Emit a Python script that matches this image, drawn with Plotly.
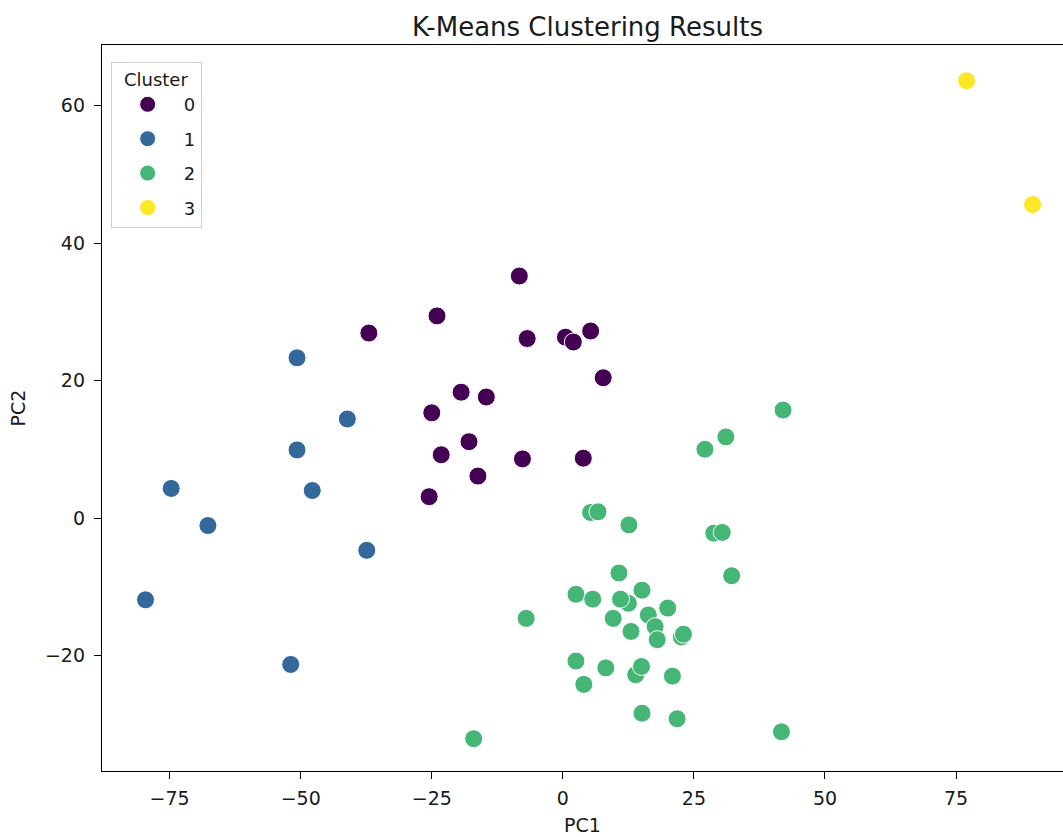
import plotly.graph_objects as go

# Cluster 0
c0_x = [-8.3, -24.0, -37.0, -6.8, 0.5, 2.0, 5.3, 7.7, -19.4, -14.6, -25.0, -17.9, -23.2, -7.7, 3.9, -16.2, -25.5]
c0_y = [35.2, 29.4, 26.9, 26.1, 26.3, 25.6, 27.2, 20.4, 18.3, 17.6, 15.3, 11.1, 9.2, 8.6, 8.7, 6.1, 3.1]
# Cluster 1
c1_x = [-50.7, -41.1, -50.7, -74.7, -47.8, -67.7, -37.4, -79.6, -51.9]
c1_y = [23.3, 14.4, 9.9, 4.3, 4.0, -1.1, -4.7, -11.9, -21.3]
# Cluster 2
c2_x = [42.0, 31.1, 27.1, 5.3, 6.7, 12.6, 28.8, 30.4, 32.2, 10.7, 2.5, 5.7, 12.5, 11.0, 15.1, 20.0,
        16.3, 9.6, -7.0, 17.6, 13.0, 18.0, 22.6, 23.0, 2.5, 8.2, 13.9, 15.0, 20.9, 4.0, 15.1, 21.8, 41.7, -17.0]
c2_y = [15.7, 11.8, 10.0, 0.8, 0.9, -1.0, -2.2, -2.1, -8.4, -8.0, -11.1, -11.8, -12.4, -11.8, -10.5, -13.1,
        -14.1, -14.6, -14.6, -15.8, -16.5, -17.7, -17.3, -16.9, -20.8, -21.8, -22.8, -21.6, -23.0, -24.2, -28.4, -29.2, -31.1, -32.1]
# Cluster 3
c3_x = [77.0, 89.6]
c3_y = [63.6, 45.6]

clusters = ["0", "1", "2", "3"]
colors = ["#440154", "#33689a", "#46b676", "#fde725"]
xs = [c0_x, c1_x, c2_x, c3_x]
ys = [c0_y, c1_y, c2_y, c3_y]

fig = go.Figure()
for name, col, x, y in zip(clusters, colors, xs, ys):
    fig.add_trace(go.Scatter(
        x=x, y=y, mode="markers", name=name, legendgroup=name,
        marker=dict(size=18, color=col, line=dict(color="white", width=1)),
    ))

font = "DejaVu Sans, sans-serif"
L, T, B = 102, 45, 66
fig.update_layout(
    width=1063, height=837,
    margin=dict(l=L, r=0, t=T, b=B, autoexpand=False),
    paper_bgcolor="white", plot_bgcolor="white",
    font=dict(family=font, size=19, color="#1a1a1a"),
    title=dict(text="K-Means Clustering Results", x=(L + 1073) / 2 / 1063, xanchor="center",
               y=1 - 27 / 837, yanchor="middle", font=dict(size=26, color="#1a1a1a")),
    legend=dict(
        x=0.009, y=0.977, xanchor="left", yanchor="top",
        bgcolor="rgba(255,255,255,0.8)", bordercolor="#d0d0d0", borderwidth=1,
        title=dict(text="Cluster", side="top center", font=dict(size=18)),
        font=dict(size=18), tracegroupgap=8, traceorder="grouped",
        itemwidth=62,
    ),
    showlegend=True,
)
fig.update_xaxes(
    range=[-87.9, 95.4], showgrid=False, zeroline=False, automargin=False,
    showline=True, linecolor="black", linewidth=1.4, mirror=True,
    ticks="outside", ticklen=7, tickcolor="black", tickwidth=1.4, ticklabelstandoff=3,
    tickvals=[-75, -50, -25, 0, 25, 50, 75],
    title=dict(text="PC1", standoff=10, font=dict(size=19)),
)
fig.update_yaxes(
    range=[-36.8, 68.8], showgrid=False, zeroline=False, automargin=False,
    showline=True, linecolor="black", linewidth=1.4, mirror=False,
    ticks="outside", ticklen=7, tickcolor="black", tickwidth=1.4, ticklabelstandoff=5,
    tickvals=[-20, 0, 20, 40, 60],
    title=dict(text="PC2", standoff=14, font=dict(size=19)),
)

fig.write_html("out.html", config={"displayModeBar": False},
               post_script="document.body.style.margin='0';")
